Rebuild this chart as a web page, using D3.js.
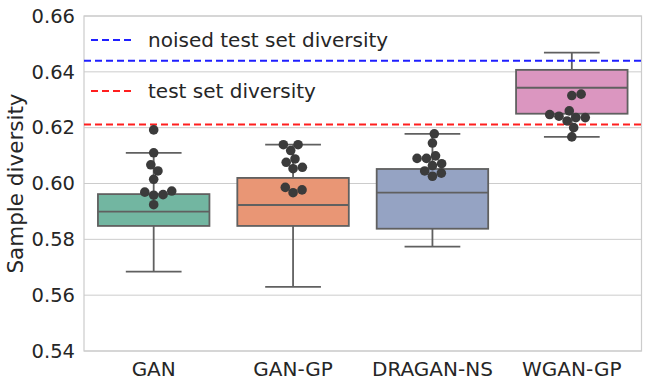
<!DOCTYPE html>
<html><head><meta charset="utf-8">
<script src="https://cdn.jsdelivr.net/npm/d3@7"></script>
<style>body{margin:0;background:#fff}svg{display:block}text{font-family:"DejaVu Sans",sans-serif;fill:#262626}</style>
</head><body>
<svg id="c" width="649" height="384"></svg>
<script>
const categories = ["GAN", "GAN-GP", "DRAGAN-NS", "WGAN-GP"];
const colors = ["#72b6a1", "#e99675", "#95a3c3", "#db96c0"];
// box stats: [lowWhisker, q1, median, q3, highWhisker]
const boxGAN = [0.5684, 0.5848, 0.5899, 0.5962, 0.6110];
const boxGANGP = [0.5630, 0.5848, 0.5923, 0.6020, 0.6139];
const boxDRAGAN = [0.5774, 0.5838, 0.5967, 0.6052, 0.6178];
const boxWGAN = [0.6167, 0.6250, 0.6343, 0.6407, 0.6469];
const ptsGAN = [0.6192, 0.6110, 0.6067, 0.6045, 0.6015, 0.5973, 0.5960, 0.5958, 0.5969, 0.5924];
const ptsGANGP = [0.6139, 0.6139, 0.6118, 0.6088, 0.6076, 0.6058, 0.6053, 0.5977, 0.5967, 0.5986];
const ptsDRAGAN = [0.6178, 0.6145, 0.6099, 0.6090, 0.6090, 0.6071, 0.6064, 0.6045, 0.6037, 0.6026];
const ptsWGAN = [0.6320, 0.6315, 0.6260, 0.6241, 0.6247, 0.6236, 0.6236, 0.6224, 0.6200, 0.6167];
const yTicks = [0.54, 0.56, 0.58, 0.60, 0.62, 0.64, 0.66];
const refLines = [
  {label: "noised test set diversity", value: 0.6440, color: "#1f1fff"},
  {label: "test set diversity", value: 0.6211, color: "#ff1f1f"}
];
const boxes = [boxGAN, boxGANGP, boxDRAGAN, boxWGAN];
const points = [ptsGAN, ptsGANGP, ptsDRAGAN, ptsWGAN];

const svg = d3.select("#c");
const L = 84, R = 641.5, T = 16, B = 351;
const x = d3.scaleBand().domain(categories).range([L, R]).padding(0);
const y = d3.scaleLinear().domain([0.54, 0.66]).range([B, T]);
const lineCol = "#606060", grid = "#cccccc";

// grid
svg.append("g").selectAll("line").data(yTicks).join("line")
  .attr("x1", L).attr("x2", R).attr("y1", d => y(d)).attr("y2", d => y(d))
  .attr("stroke", grid).attr("stroke-width", 1);
// frame
svg.append("rect").attr("x", L).attr("y", T).attr("width", R - L).attr("height", B - T)
  .attr("fill", "none").attr("stroke", grid).attr("stroke-width", 1.2);

// y axis labels
const yAxis = d3.axisLeft(y).tickValues(yTicks).tickFormat(d3.format(".2f")).tickSize(0).tickPadding(9);
const ga = svg.append("g").attr("transform", `translate(${L},0)`).call(yAxis);
ga.select(".domain").remove();
ga.selectAll("text").attr("font-size", 19.5).attr("fill", "#262626").attr("font-family", "DejaVu Sans");
const xAxis = d3.axisBottom(x).tickSize(0).tickPadding(11);
const gx = svg.append("g").attr("transform", `translate(0,${B})`).call(xAxis);
gx.select(".domain").remove();
gx.selectAll("text").attr("font-size", 20).attr("fill", "#262626").attr("font-family", "DejaVu Sans");

svg.append("text").attr("transform", `translate(23,${(T + B) / 2}) rotate(-90)`)
  .attr("text-anchor", "middle").attr("font-size", 21.5).text("Sample diversity");

// boxes
const bw = x.bandwidth() * 0.8;
categories.forEach((c, i) => {
  const s = boxes[i], cx = x(c) + x.bandwidth() / 2;
  const g = svg.append("g");
  g.append("line").attr("x1", cx).attr("x2", cx).attr("y1", y(s[0])).attr("y2", y(s[1])).attr("stroke", lineCol).attr("stroke-width", 1.8);
  g.append("line").attr("x1", cx).attr("x2", cx).attr("y1", y(s[3])).attr("y2", y(s[4])).attr("stroke", lineCol).attr("stroke-width", 1.8);
  [s[0], s[4]].forEach(v => g.append("line").attr("x1", cx - bw / 4).attr("x2", cx + bw / 4)
    .attr("y1", y(v)).attr("y2", y(v)).attr("stroke", lineCol).attr("stroke-width", 1.8));
  g.append("rect").attr("x", cx - bw / 2).attr("width", bw).attr("y", y(s[3])).attr("height", y(s[1]) - y(s[3]))
    .attr("fill", colors[i]).attr("stroke", lineCol).attr("stroke-width", 1.8);
  g.append("line").attr("x1", cx - bw / 2).attr("x2", cx + bw / 2).attr("y1", y(s[2])).attr("y2", y(s[2])).attr("stroke", lineCol).attr("stroke-width", 1.8);
});

// reference lines
refLines.forEach(r => svg.append("line").attr("x1", L).attr("x2", R).attr("y1", y(r.value)).attr("y2", y(r.value))
  .attr("stroke", r.color).attr("stroke-width", 2).attr("stroke-dasharray", "7,4"));

// swarm
const rad = 4.8, dia = 9.4;
categories.forEach((c, i) => {
  const cx = x(c) + x.bandwidth() / 2;
  const sorted = points[i].map(v => ({v, py: y(v)})).sort((a, b) => a.v - b.v);
  const placed = [];
  sorted.forEach(p => {
    const near = placed.filter(q => Math.abs(q.py - p.py) < dia);
    const cands = [0];
    near.forEach(q => {
      const dx = Math.sqrt(dia * dia - (q.py - p.py) ** 2);
      cands.push(q.dx + dx, q.dx - dx);
    });
    cands.sort((a, b) => Math.abs(a) - Math.abs(b));
    const ok = cands.find(d => near.every(q => (q.dx - d) ** 2 + (q.py - p.py) ** 2 >= dia * dia - 0.01));
    p.dx = ok;
    placed.push(p);
  });
  svg.append("g").selectAll("circle").data(placed).join("circle")
    .attr("cx", d => cx + d.dx).attr("cy", d => d.py).attr("r", rad).attr("fill", "#3b3b3b");
});

// legend
const lg = svg.append("g");
refLines.forEach((r, i) => {
  const ly = 40 + i * 51;
  lg.append("line").attr("x1", 91).attr("x2", 133).attr("y1", ly).attr("y2", ly)
    .attr("stroke", r.color).attr("stroke-width", 2).attr("stroke-dasharray", "7,4");
  lg.append("text").attr("x", 148).attr("y", ly + 7).attr("font-size", 20).text(r.label);
});
</script>
</body></html>
